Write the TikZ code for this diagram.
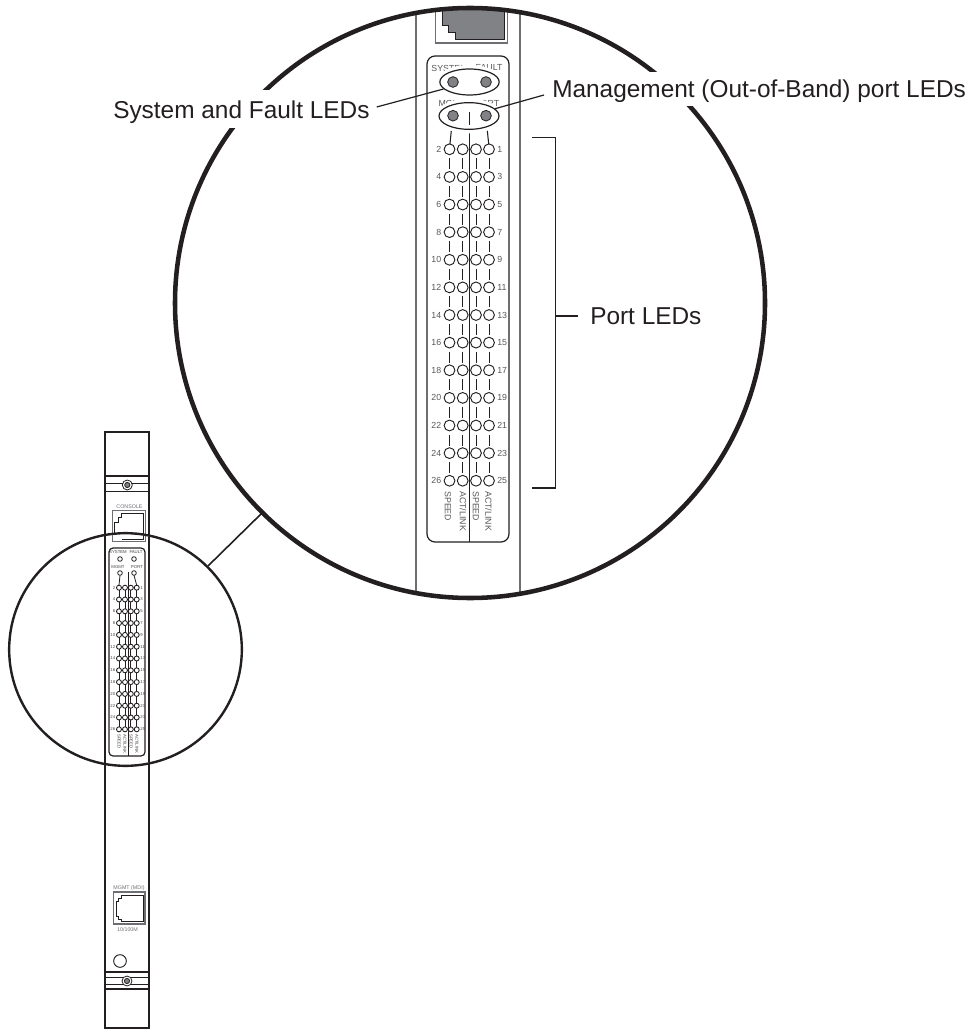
\documentclass[tikz,border=0pt]{standalone}
\usepackage{fontspec}
\usetikzlibrary{shapes.geometric}
\setmainfont{Liberation Sans}
\definecolor{ledgray}{HTML}{808285}
\definecolor{rim}{HTML}{6D6E71}
\definecolor{ink}{HTML}{231F20}
\tikzset{
  px/.style={x=0.75pt,y=-0.75pt},
  callout/.style={font=\fontsize{18.3pt}{20pt}\selectfont,text=ink,inner sep=0pt},
  lead/.style={draw=ink,line width=0.9pt},
  rimline/.style={draw=rim,line width=0.7pt},
  tiny/.style={font=\fontsize{6.6pt}{7pt}\selectfont,text=rim!80!black,inner sep=0pt},
  micro/.style={font=\fontsize{3.2pt}{3.5pt}\selectfont,text=ink!85,inner sep=0pt},
  small/.style={font=\fontsize{4pt}{4.5pt}\selectfont,text=rim,inner sep=0pt},
}
\begin{document}
\begin{tikzpicture}[px]
\useasboundingbox (0,0) rectangle (976,1030);
% module
\draw[draw=ink,line width=0.8pt] (105,432) rectangle (149,1028);
\draw[ink,line width=1.3pt] (105,476) -- (149,476);
\draw[ink,line width=0.6pt] (105,483) -- (149,483);
\draw[ink,line width=0.8pt] (105,491.5) -- (149,491.5);
\draw[ink,line width=0.6pt,fill=white] (127.3,485) circle (5);
\draw[ink,line width=0.6pt,fill=ledgray] (127.3,485) circle (2.6);
\node[small] (con) at (129.5,507) {CONSOLE};
\draw[rimline] (112,510.5) rectangle (145,541);
\draw[ink,line width=0.6pt] (114,541) -- (114,522) -- (118,522) -- (118,517) -- (121,517) -- (121,513) -- (143.5,513) -- (143.5,541);
% lower module
\draw[ink,line width=1pt] (105,972) -- (149,972);
\draw[ink,line width=0.6pt] (105,977) -- (149,977);
\draw[ink,line width=0.7pt] (105,984) -- (149,984);
\draw[ink,line width=0.8pt] (105,989) -- (149,989);
\draw[ink,line width=0.6pt,fill=white] (127,981) circle (5);
\draw[ink,line width=0.6pt,fill=ledgray] (127,981) circle (2.6);
\node[small] (mdi) at (129,888) {MGMT (MDI)};
\draw[rimline,line width=1.2pt] (113.5,892) rectangle (145,924);
\draw[ink,line width=0.7pt] (121,895) -- (143,895) -- (143,921.7) -- (121,921.7) -- (121,919) -- (118.5,919) -- (118.5,916.7) -- (116,916.7) -- (116,901) -- (118.5,901) -- (118.5,898) -- (121,898) -- cycle;
\node[small] (ten) at (127.5,929.5) {10/100M};
\node[circle,draw=ink,line width=0.7pt,minimum size=9.5pt,inner sep=0pt] (resetled) at (120,961) {};
% connector between circles
\coordinate (bigedge) at (262,513);
\coordinate (smalledge) at (208,566);
\draw[ink,line width=1.2pt] (smalledge) -- (bigedge);
% small circle
\node[circle,draw=ink,line width=1.8pt,fill=white,minimum size=174.5pt,inner sep=0pt] (smallc) at (125.5,649.5) {};
\begin{scope}
\clip (125.5,649.5) circle (115.3);
\draw[ink,line width=0.8pt] (105,500) -- (105,800) (149,500) -- (149,800);
\draw[rim,line width=0.7pt] (112,500) -- (112,541) -- (145,541) -- (145,500);
\draw[ink,line width=0.6pt] (122,539.5) -- (143.5,539.5) -- (143.5,500);
\end{scope}
\draw[ink,line width=0.9pt,rounded corners=3pt] (109,548) rectangle (145,756);
\draw[ink,line width=0.6pt] (128,572) -- (128,756);
\node[micro] (ss) at (118,552.5) {SYSTEM};
\node[micro] (sf) at (136,552.5) {FAULT};
\node[micro] (sm) at (118,567) {MGMT};
\node[micro] (sp) at (137,567) {PORT};
\foreach \x in {120,134} {\draw[ink,line width=0.6pt] (\x,559) circle (2.3);}
\foreach \x in {120,134} {\draw[ink,line width=0.6pt] (\x,573) circle (2.3);}
\draw[ink,line width=0.6pt] (120,575.3) -- (119,585.3) (134,575.3) -- (136.7,585.3);
\foreach \n [count=\i from 0] in {2,4,...,26} {
  \pgfmathsetmacro{\yy}{587.7+\i*11.8}
  \foreach \x in {119,125,130.8,136.7} {
    \draw[ink,line width=0.65pt,fill=white] (\x,\yy) circle (2.5);
    \ifnum\i<12 \draw[ink,line width=0.65pt] (\x,\yy+2.5) -- (\x,\yy+9.3); \fi
  }
  \node[micro,anchor=east] (sl\i) at (115.5,\yy) {\n};
  \pgfmathtruncatemacro{\m}{\n-1}
  \node[micro,anchor=west] (sr\i) at (140.2,\yy) {\m};
}
\foreach \x/\t in {119/{SPEED},125/{ACT/LINK},131/{SPEED},137/{ACT/LINK}}
  \node[micro,rotate=-90,anchor=west] at (\x,734) {\t};
% big circle
\begin{scope}
\clip (470,303) circle (295);
\fill[white] (470,303) circle (295);
\draw[rimline,line width=0.8pt] (416,0) -- (416,610) (520,0) -- (520,610);
\draw[rim,line width=0.8pt] (435.7,0) rectangle (507.7,43);
\draw[ink,fill=ledgray,line width=0.7pt] (442.3,0) -- (442.3,25) -- (448,25) -- (448,32) -- (455,32) -- (455,39.3) -- (504,39.3) -- (504,0) -- cycle;
\end{scope}
\draw[ink,line width=0.9pt,rounded corners=6pt] (427,56) rectangle (509,542);
\draw[ink,line width=0.8pt] (469.5,130) -- (469.5,542);
\node[tiny] (tsys) at (449.5,68) {SYSTEM};
\node[tiny] (tfau) at (489,68) {FAULT};
\node[tiny] (tmg) at (452,103) {MGMT};
\node[tiny] (tpo) at (487,103) {PORT};
\draw[ink,line width=0.8pt] (451.3,130.7) -- (450,143.8) (487.3,130.7) -- (488.7,143.8);
\foreach \n [count=\i from 0] in {2,4,...,26} {
  \pgfmathsetmacro{\yy}{149.3+\i*27.62}
  \foreach \x in {449.5,462.7,476,489} {
    \draw[ink,line width=0.7pt] (\x,\yy) circle (5.4);
    \ifnum\i<12 \draw[ink,line width=0.7pt] (\x,\yy+9) -- (\x,\yy+20); \fi
  }
  \node[tiny,anchor=east] (bl\i) at (441.5,\yy) {\n};
  \pgfmathtruncatemacro{\m}{\n-1}
  \node[tiny,anchor=west] (br\i) at (497,\yy) {\m};
}
\foreach \x/\t in {448/{SPEED},463/{ACT/LINK},476/{SPEED},488.5/{ACT/LINK}}
  \node[tiny,rotate=-90,anchor=west] at (\x,491) {\t};
% ellipses with a white halo
\node[ellipse,fill=white,minimum width=50pt,minimum height=25.5pt,inner sep=0pt] (h1) at (469.5,82) {};
\node[ellipse,fill=white,minimum width=50pt,minimum height=26pt,inner sep=0pt] (h2) at (469,116) {};
\node[ellipse,draw=ink,line width=0.9pt,fill=white,minimum width=44.5pt,minimum height=19.5pt,inner sep=0pt] (e1) at (469.5,82) {};
\node[ellipse,draw=ink,line width=0.9pt,fill=white,minimum width=45pt,minimum height=20pt,inner sep=0pt] (e2) at (469,116) {};
\draw[ink,line width=0.8pt] (469.5,112) -- (469.5,125);
\foreach \x/\y/\nm in {453/82/a,486/82/b,453/115.7/c,486/115.7/d}
  \node[circle,draw=ink,line width=0.6pt,fill=ledgray,minimum size=8pt,inner sep=0pt] (\nm) at (\x,\y) {};
\node[circle,draw=ink,line width=3.4pt,minimum size=442.5pt,inner sep=0pt] (bigc) at (470,303) {};
% gaps in the big circle behind the callouts
\fill[white] (113,90) rectangle (370,128);
\fill[white] (552,72.5) rectangle (967,106);
% callouts
\node[callout,anchor=base west] (lsys) at (113,119) {System and Fault LEDs};
\node[callout,anchor=base west] (lman) at (552,98) {Management (Out-of-Band) port LEDs};
\node[callout,anchor=base west] (lport) at (590,324) {Port LEDs};
\coordinate (lsysend) at (376.7,107);
\coordinate (lmanend) at (544,95);
\draw[lead] (lsysend) -- (e1);
\draw[lead] (lmanend) -- (e2);
% bracket
\coordinate (brt) at (531.7,137.7);
\coordinate (brb) at (531.7,488);
\draw[ink,line width=0.9pt] (brt) -- (555.7,137.7) -- (555.7,488) -- (brb);
\coordinate (brm) at (555.7,316);
\coordinate (brn) at (578,316);
\draw[ink,line width=0.9pt] (brm) -- (brn);
\end{tikzpicture}
\end{document}
